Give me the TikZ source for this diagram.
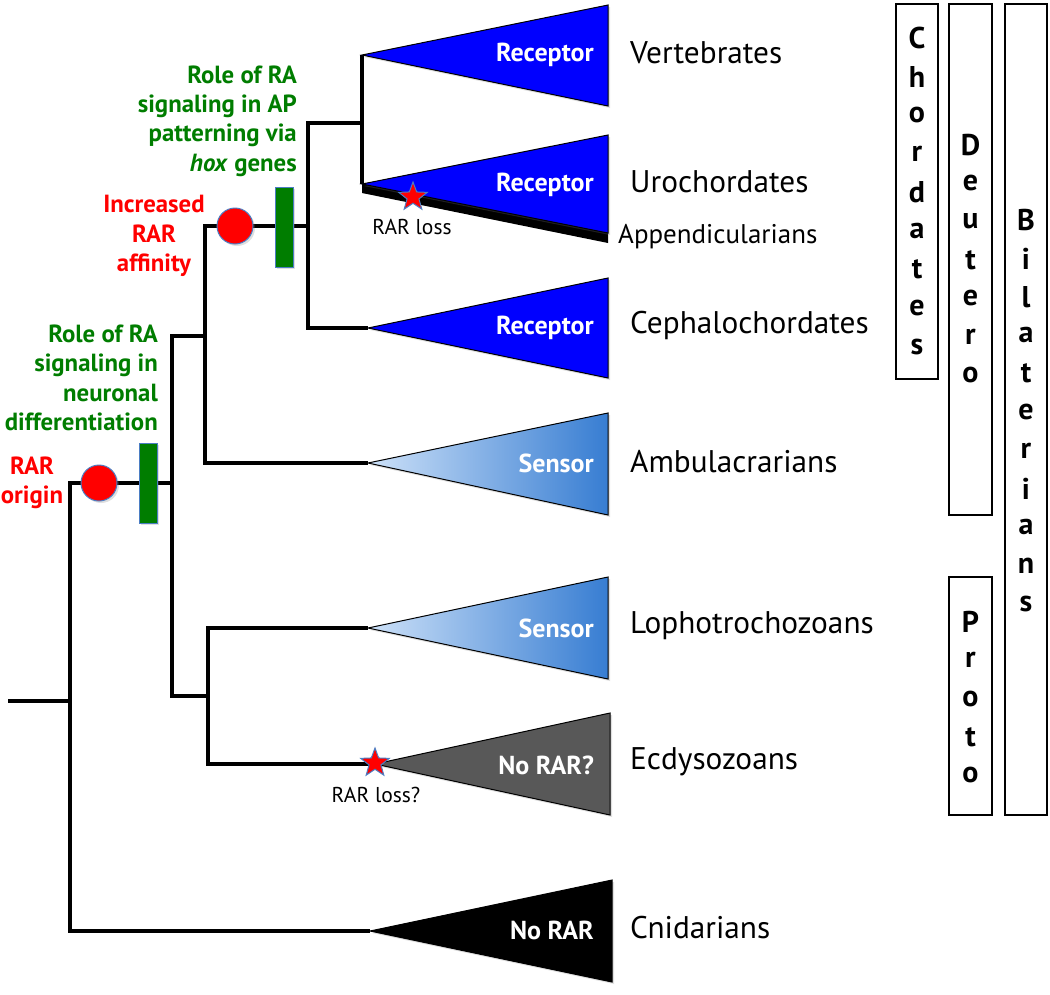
\documentclass[tikz,border=0pt]{standalone}
\usepackage{fontspec}
\setmainfont{PT Sans}
\usetikzlibrary{shapes.geometric}
\usetikzlibrary{shadows}

\definecolor{rcpblue}{RGB}{0,0,255}
\definecolor{sensL}{RGB}{205,225,248}
\definecolor{sensR}{RGB}{55,125,210}
\definecolor{nogray}{RGB}{88,88,88}
\definecolor{rolegreen}{RGB}{0,125,0}
\definecolor{edgeblue}{RGB}{75,125,195}

\begin{document}
\begin{tikzpicture}[x=1pt,y=-1pt,
    branch/.style={line width=3.5pt},
    clade/.style={draw=black, line width=1pt,
        drop shadow={opacity=0.25, shadow xshift=2pt, shadow yshift=-2pt}},
    inlbl/.style={anchor=east, inner sep=0pt, text=white,
        font=\bfseries\fontsize{26}{30}\selectfont},
    taxon/.style={anchor=west, inner sep=0pt, font=\fontsize{31.3}{36}\selectfont},
    gain/.style={circle, fill=red, draw=edgeblue, line width=1pt,
        minimum size=36pt, inner sep=0pt,
        drop shadow={opacity=0.25, shadow xshift=2pt, shadow yshift=-2pt}},
    rolebar/.style={rectangle, fill=rolegreen, draw=edgeblue, line width=1pt,
        minimum width=18pt, minimum height=80pt, inner sep=0pt,
        drop shadow={opacity=0.25, shadow xshift=2pt, shadow yshift=-2pt}},
    lossstar/.style={star, star points=5, star point ratio=2.4, fill=red,
        draw=edgeblue, line width=1pt, minimum size=30pt, inner sep=0pt},
    greentxt/.style={text=rolegreen, inner sep=0pt,
        font=\bfseries\fontsize{24.8}{29.3}\selectfont},
    redtxt/.style={text=red, inner sep=0pt, align=center,
        font=\bfseries\fontsize{24.8}{29.5}\selectfont},
    losstxt/.style={inner sep=0pt, font=\fontsize{21.5}{25}\selectfont},
    grpbox/.style={draw=black, line width=1.3pt},
    boxch/.style={inner sep=0pt, font=\bfseries\fontsize{30}{34}\selectfont}]
    \useasboundingbox (0,0) rectangle (1050,994);

% 树的节点
    \coordinate (stub) at (8,701);
    \coordinate (nroot) at (70,701);
    \coordinate (nbil) at (172,483);
    \coordinate (ndeu) at (205,336);
    \coordinate (npro) at (208,696);
    \coordinate (ncho) at (308,226);
    \coordinate (nolf) at (362,123);
    \coordinate (vert) at (362,55);
    \coordinate (uro) at (362,184);
    \coordinate (ceph) at (368,328);
    \coordinate (ambu) at (368,463);
    \coordinate (loph) at (368,628);
    \coordinate (ecdy) at (375,764);
    \coordinate (cnid) at (370,931);

% 分支
    \draw[branch] (stub) -- (nroot);
    \draw[branch] (nbil) -| (nroot) |- (cnid);
    \draw[branch] (ndeu) -| (nbil) |- (npro);
    \draw[branch] (ncho) -| (ndeu) |- (ambu);
    \draw[branch] (nolf) -| (ncho) |- (ceph);
    \draw[branch] (vert) -| (nolf) |- (uro);
    \draw[branch] (loph) -| (npro) |- (ecdy);

% 三角形 (类群)
    \draw[clade, fill=rcpblue] (vert) -- ++(246,-50) -- ++(0,101) -- cycle;
    \fill[black] (uro) ++(0,-1) -- ++(0,10) -- (608,243) -- (608,233) -- cycle;
    \draw[clade, fill=rcpblue] (uro) -- ++(246,-49) -- ++(0,98) -- cycle;
    \draw[clade, fill=rcpblue] (ceph) -- ++(240,-50) -- ++(0,100) -- cycle;
    \draw[clade, left color=sensL, right color=sensR] (ambu) -- ++(240,-50) -- ++(0,102) -- cycle;
    \draw[clade, left color=sensL, right color=sensR] (loph) -- ++(240,-51) -- ++(0,102) -- cycle;
    \draw[clade, fill=nogray] (ecdy) -- ++(235,-51) -- ++(0,102) -- cycle;
    \draw[clade, fill=black] (cnid) -- ++(242,-51) -- ++(0,102) -- cycle;

    \node[inlbl] (rcpv) at (594,55) {Receptor};
    \node[inlbl] (rcpu) at (594,185) {Receptor};
    \node[inlbl] (rcpc) at (594,328) {Receptor};
    \node[inlbl] (sena) at (594,463) {Sensor};
    \node[inlbl] (senl) at (594,628) {Sensor};
    \node[inlbl] (norar1) at (594,765) {No RAR?};
    \node[inlbl] (norar2) at (594,930) {No RAR};

% 类群名称
    \node[taxon] (tvert) at (630,53) {Vertebrates};
    \node[taxon] (turo) at (630,182) {Urochordates};
    \node[taxon, font=\fontsize{27}{31}\selectfont] (tapp) at (618,237) {Appendicularians};
    \node[taxon] (tceph) at (630,325) {Cephalochordates};
    \node[taxon] (tambu) at (630,462) {Ambulacrarians};
    \node[taxon] (tloph) at (630,626) {Lophotrochozoans};
    \node[taxon] (tecdy) at (630,762) {Ecdysozoans};
    \node[taxon] (tcnid) at (630,928) {Cnidarians};

% 事件标记
    \node[gain] (rarorig) at (99,483) {};
    \node[rolebar] (neurbar) at (148,483) {};
    \node[gain] (raraff) at (235,226) {};
    \node[rolebar] (hoxbar) at (284,227) {};
    \node[lossstar] (lossuro) at (413,197) {};
    \node[lossstar] (lossecd) at (375,763) {};
    \node[losstxt] (tlossuro) at (412,227) {RAR loss};
    \node[losstxt] (tlossecd) at (376,795) {RAR loss?};

    \node[greentxt, anchor=east, align=right] (thox) at (297,121)
        {Role of RA\\signaling in AP\\patterning via\\\textit{hox} genes};
    \node[greentxt, anchor=east, align=right] (tneur) at (158,378)
        {Role of RA\\signaling in\\neuronal\\differentiation};
    \node[redtxt] (taff) at (154,236) {Increased\\RAR\\affinity};
    \node[redtxt] (torig) at (32,483) {RAR\\origin};

% 右侧分组
    \draw[grpbox] (896,4) rectangle (938,379);
    \draw[grpbox] (949,4) rectangle (992,515);
    \draw[grpbox] (949,577) rectangle (992,815);
    \draw[grpbox] (1005,4) rectangle (1047,815);
    \foreach \ch [count=\i from 0] in {C,h,o,r,d,a,t,e,s}
        \node[boxch] (cho\i) at (917,38+38.6*\i) {\ch};
    \foreach \ch [count=\i from 0] in {D,e,u,t,e,r,o}
        \node[boxch] (deu\i) at (970.5,145+38.3*\i) {\ch};
    \foreach \ch [count=\i from 0] in {P,r,o,t,o}
        \node[boxch] (pro\i) at (970.5,622+38.3*\i) {\ch};
    \foreach \ch [count=\i from 0] in {B,i,l,a,t,e,r,i,a,n,s}
        \node[boxch] (bil\i) at (1026,220+38.4*\i) {\ch};
\end{tikzpicture}
\end{document}
